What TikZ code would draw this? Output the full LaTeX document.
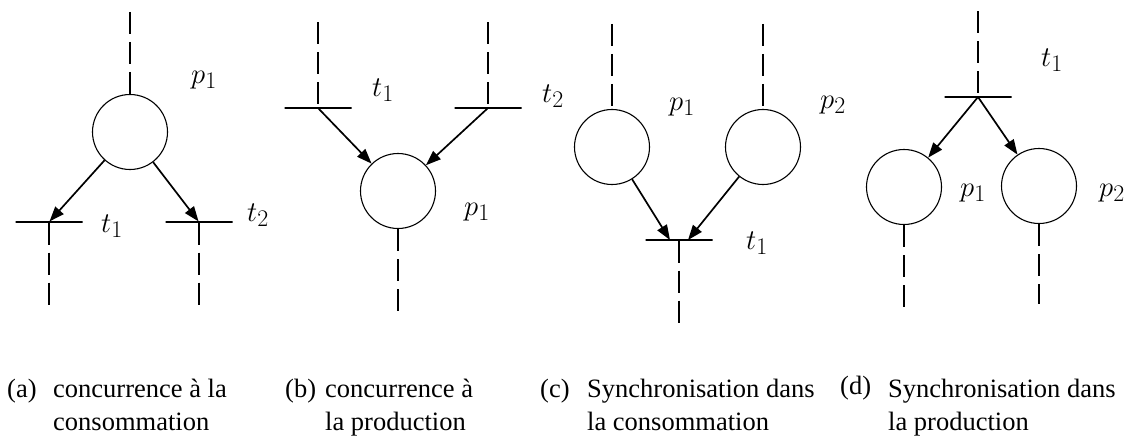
\documentclass[tikz,border=0pt]{standalone}
\usepackage{fontspec}
\setmainfont{Liberation Serif}
\usepackage{tikz}
\usetikzlibrary{arrows.meta,positioning}
\tikzset{
  place/.style={circle,draw=black,line width=1.1pt,minimum size=75pt,inner sep=0pt},
  trans/.style={rectangle,draw=black,line width=1.1pt,inner sep=0pt,minimum width=67pt,minimum height=0pt},
  flow/.style={-{Triangle[length=15pt,width=11pt]},draw=black,line width=1.7pt},
  feed/.style={draw=black,line width=1.2pt,dash pattern=on 22pt off 8pt},
  lab/.style={font=\Huge,scale=1.15,inner sep=0pt},
  captxt/.style={font=\fontsize{26.5}{31}\selectfont,inner sep=0pt,anchor=base west}
}
\begin{document}
\begin{tikzpicture}[x=1pt,y=-1pt]
  \useasboundingbox (0,0) rectangle (1132,436);

  % (a) concurrence a la consommation
  \node[place] (pa) at (130,132) {};
  \node[trans] (ta1) at (49,222) {};
  \node[trans] (ta2) at (199,222) {};
  \coordinate[above=82pt of pa] (pa-in);
  \coordinate[below=85pt of ta1] (ta1-out);
  \coordinate[below=83pt of ta2] (ta2-out);
  \draw[feed] (pa-in) -- (pa);
  \draw[feed] (ta1) -- (ta1-out);
  \draw[feed] (ta2) -- (ta2-out);
  \draw[flow] (pa) -- (ta1);
  \draw[flow] (pa) -- (ta2);
  \node[lab] (pa-l) at (204,80) {$p_1$};
  \node[lab] (ta1-l) at (112,226) {$t_1$};
  \node[lab] (ta2-l) at (258,215) {$t_2$};

  % (b) concurrence a la production
  \node[trans] (tb1) at (318,108) {};
  \node[trans] (tb2) at (488,108) {};
  \node[place] (pb) at (398,191) {};
  \coordinate[above=85pt of tb1] (tb1-in);
  \coordinate[above=85pt of tb2] (tb2-in);
  \coordinate[below=85pt of pb] (pb-out);
  \draw[feed] (tb1-in) -- (tb1);
  \draw[feed] (tb2-in) -- (tb2);
  \draw[feed] (pb) -- (pb-out);
  \draw[flow] (tb1) -- (pb);
  \draw[flow] (tb2) -- (pb);
  \node[lab] (tb1-l) at (383,90) {$t_1$};
  \node[lab] (tb2-l) at (553,96) {$t_2$};
  \node[lab] (pb-l) at (477,212) {$p_1$};

  % (c) synchronisation dans la consommation
  \node[place] (pc1) at (612,147) {};
  \node[place] (pc2) at (763,147) {};
  \node[trans] (tc) at (679,240) {};
  \coordinate[above=85pt of pc1] (pc1-in);
  \coordinate[above=85pt of pc2] (pc2-in);
  \coordinate[below=83pt of tc] (tc-out);
  \draw[feed] (pc1-in) -- (pc1);
  \draw[feed] (pc2-in) -- (pc2);
  \draw[feed] (tc) -- (tc-out);
  \draw[flow] (pc1) -- ([xshift=-9pt]tc.center);
  \draw[flow] (pc2) -- ([xshift=9pt]tc.center);
  \node[lab] (pc1-l) at (682,107) {$p_1$};
  \node[lab] (pc2-l) at (833,105) {$p_2$};
  \node[lab] (tc-l) at (757,243) {$t_1$};

  % (d) synchronisation dans la production
  \node[trans] (td) at (978,97) {};
  \node[place] (pd1) at (904,187) {};
  \node[place] (pd2) at (1039,186) {};
  \coordinate[above=85pt of td] (td-in);
  \coordinate[below=83pt of pd1] (pd1-out);
  \coordinate[below=80pt of pd2] (pd2-out);
  \draw[feed] (td-in) -- (td);
  \draw[feed] (pd1) -- (pd1-out);
  \draw[feed] (pd2) -- (pd2-out);
  \draw[flow] (td) -- (pd1);
  \draw[flow] (td) -- (pd2);
  \node[lab] (td-l) at (1052,60) {$t_1$};
  \node[lab] (pd1-l) at (973,193) {$p_1$};
  \node[lab] (pd2-l) at (1112,193) {$p_2$};

  % captions
  \node[captxt] (cap-a) at (7,397) {(a)};
  \node[captxt] (cap-a1) at (53,397) {concurrence à la};
  \node[captxt] (cap-a2) at (53,430) {consommation};
  \node[captxt] (cap-b) at (285,397) {(b)};
  \node[captxt] (cap-b1) at (325,397) {concurrence à};
  \node[captxt] (cap-b2) at (325,430) {la production};
  \node[captxt] (cap-c) at (540,397) {(c)};
  \node[captxt] (cap-c1) at (587,397) {Synchronisation dans};
  \node[captxt] (cap-c2) at (587,430) {la consommation};
  \node[captxt] (cap-d) at (840,394) {(d)};
  \node[captxt] (cap-d1) at (888,397) {Synchronisation dans};
  \node[captxt] (cap-d2) at (888,430) {la production};
\end{tikzpicture}
\end{document}
